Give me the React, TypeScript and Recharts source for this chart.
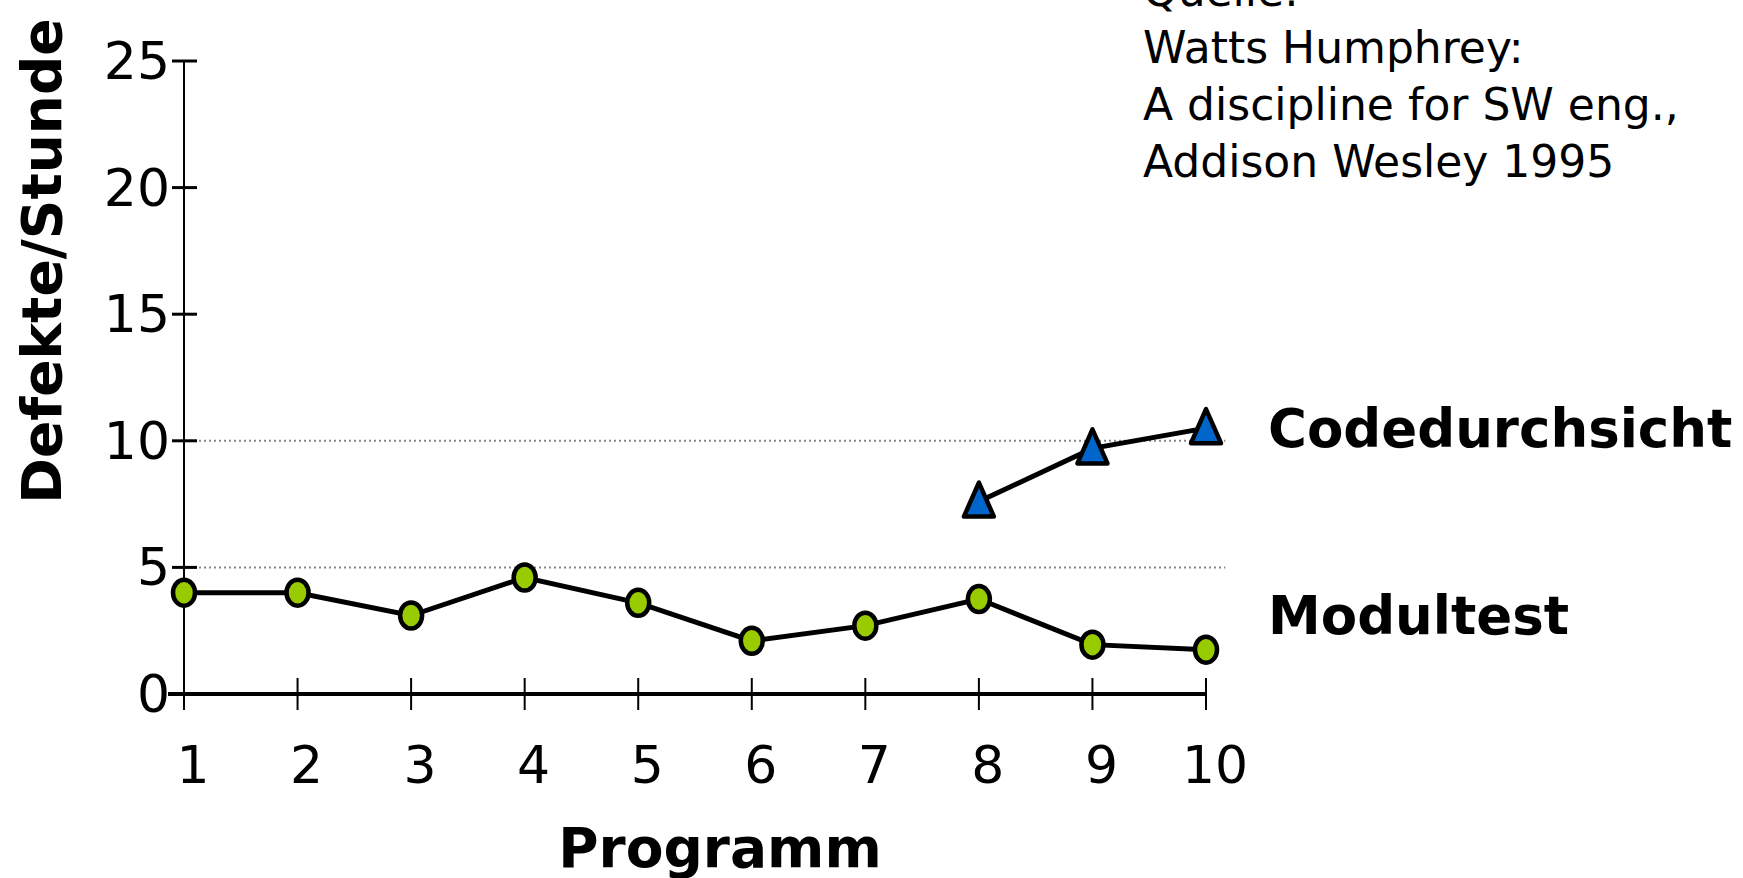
import React from 'react';
import { LineChart, Line, XAxis, YAxis, ReferenceLine } from 'recharts';

const programs = [1, 2, 3, 4, 5, 6, 7, 8, 9, 10];
const modultest = [4.0, 4.0, 3.1, 4.6, 3.6, 2.1, 2.7, 3.75, 1.95, 1.75];
const codedurchsicht = [null, null, null, null, null, null, null, 7.6, 9.7, 10.5];
const yTicks = [0, 5, 10, 15, 20, 25];
const gridValues = [5, 10];
const sourceLines = ['Quelle:', 'Watts Humphrey:', 'A discipline for SW eng.,', 'Addison Wesley 1995'];

const data = programs.map((p, i) => ({
  program: p,
  modultest: modultest[i],
  codedurchsicht: codedurchsicht[i],
}));

const FONT = '"DejaVu Sans", Verdana, sans-serif';

function YTick({ x, y, payload }: any) {
  const isZero = payload.value === 0;
  return (
    <g>
      {isZero ? (
        <line x1={x - 16} x2={x} y1={y} y2={y} stroke="#000" strokeWidth={4} />
      ) : (
        <line x1={x - 12} x2={x + 13} y1={y} y2={y} stroke="#000" strokeWidth={3} />
      )}
      <text
        x={x - 14}
        y={y}
        textAnchor="end"
        dominantBaseline="central"
        fontSize={52}
        fontFamily={FONT}
        fill="#000"
      >
        {payload.value}
      </text>
    </g>
  );
}

function XTick({ x, y, payload }: any) {
  return (
    <g>
      <line x1={x} x2={x} y1={y - 16} y2={y + 16} stroke="#000" strokeWidth={2} />
      <text
        x={x + 9}
        y={y + 71}
        textAnchor="middle"
        dominantBaseline="central"
        fontSize={52}
        fontFamily={FONT}
        fill="#000"
      >
        {payload.value}
      </text>
    </g>
  );
}

function CircleDot({ cx, cy, value }: any) {
  if (value == null || cx == null || cy == null) return null;
  return <ellipse cx={cx} cy={cy} rx={11} ry={13} fill="#99cc00" stroke="#000" strokeWidth={4.5} />;
}

function TriangleDot({ cx, cy, value }: any) {
  if (value == null || cx == null || cy == null) return null;
  const pts = `${cx},${cy - 19} ${cx - 15},${cy + 15} ${cx + 15},${cy + 15}`;
  return <polygon points={pts} fill="#0066cc" stroke="#000" strokeWidth={4.5} strokeLinejoin="round" />;
}

export default function App() {
  return (
    <div style={{ position: 'relative', width: 1743, height: 878, background: '#fff' }}>
      <style>{`body{margin:0}`}</style>
      <LineChart
        width={1743}
        height={878}
        data={data}
        margin={{ top: 61, right: 537, bottom: 84, left: 84 }}
      >
        {gridValues.map((v) => (
          <ReferenceLine
            key={v}
            segment={[
              { x: 1, y: v },
              { x: 10.17, y: v },
            ]}
            ifOverflow="visible"
            stroke="#888"
            strokeWidth={2}
            strokeDasharray="2 3"
          />
        ))}
        <XAxis
          dataKey="program"
          type="number"
          domain={[1, 10]}
          ticks={programs}
          height={100}
          tickSize={0}
          tickMargin={0}
          axisLine={{ stroke: '#000', strokeWidth: 4 }}
          tick={<XTick />}
          interval={0}
        />
        <YAxis
          type="number"
          domain={[0, 25]}
          ticks={yTicks}
          width={100}
          tickSize={0}
          tickMargin={0}
          axisLine={{ stroke: '#000', strokeWidth: 2 }}
          tick={<YTick />}
          interval={0}
        />
        <Line
          type="linear"
          dataKey="modultest"
          stroke="#000"
          strokeWidth={5}
          dot={<CircleDot />}
          activeDot={false}
          isAnimationActive={false}
        />
        <Line
          type="linear"
          dataKey="codedurchsicht"
          stroke="#000"
          strokeWidth={5}
          dot={<TriangleDot />}
          activeDot={false}
          connectNulls={false}
          isAnimationActive={false}
        />
      </LineChart>
      <svg
        width={1743}
        height={878}
        style={{ position: 'absolute', left: 0, top: 0, pointerEvents: 'none' }}
      >
        {sourceLines.map((t, i) => (
          <text key={t} x={1143} y={6 + i * 57} fontSize={44} fontFamily={FONT} fill="#000">
            {t}
          </text>
        ))}
        <text x={1268} y={447} fontSize={53} fontWeight="bold" fontFamily={FONT} fill="#000">
          Codedurchsicht
        </text>
        <text x={1268} y={634} fontSize={53} fontWeight="bold" fontFamily={FONT} fill="#000">
          Modultest
        </text>
        <text x={720} y={867} textAnchor="middle" fontSize={55} fontWeight="bold" fontFamily={FONT} fill="#000">
          Programm
        </text>
        <text
          x={61}
          y={261}
          transform="rotate(-90 61 261)"
          textAnchor="middle"
          fontSize={55}
          fontWeight="bold"
          fontFamily={FONT}
          fill="#000"
        >
          Defekte/Stunde
        </text>
      </svg>
    </div>
  );
}
